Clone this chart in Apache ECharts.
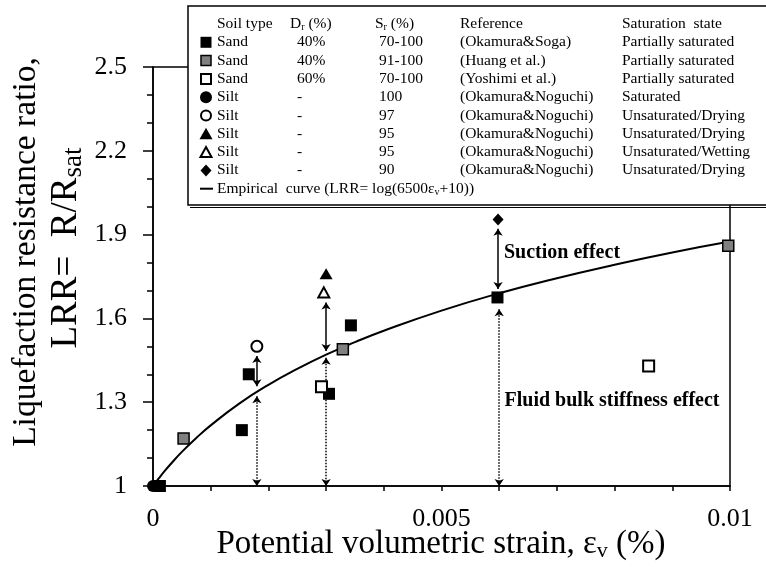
<!DOCTYPE html>
<html><head><meta charset="utf-8">
<script src="https://cdn.jsdelivr.net/npm/echarts@6/dist/echarts.min.js"></script>
<style>html,body{margin:0;padding:0;background:#fff}#c{width:766px;height:567px}</style>
</head><body><div id="c"></div><script>
const FONT = "'Liberation Serif','Times New Roman',serif";

// ---- data ----
const blackSquares   = [[0.00012,1.0],[0.00154,1.20],[0.00166,1.40],[0.00305,1.33],[0.00343,1.575],[0.00597,1.675]];
const graySquares    = [[0.00053,1.17],[0.00329,1.49],[0.00997,1.86]];
const openSquares    = [[0.00292,1.355],[0.00859,1.43]];
const blackCircles   = [[0,1.0]];
const openCircles    = [[0.0018,1.50]];
const blackTriangles = [[0.00300,1.76]];
const openTriangles  = [[0.00296,1.693]];
const blackDiamonds  = [[0.00598,1.954]];

// empirical curve, values
const curveX = [0, 0.0001, 0.0002, 0.0003, 0.0005, 0.00075, 0.001, 0.0015, 0.002, 0.0025, 0.003, 0.0035, 0.004, 0.005, 0.006, 0.007, 0.008, 0.009, 0.01];
const curveY = [1.0, 1.027, 1.053, 1.077, 1.122, 1.172, 1.217, 1.296, 1.362, 1.419, 1.470, 1.515, 1.556, 1.628, 1.690, 1.744, 1.792, 1.836, 1.875];

// arrows: [x, yFrom, yTo]
const suctionArrows = [[0.0018,1.465,1.357],[0.0030,1.657,1.483],[0.00598,1.921,1.705]];
const bulkArrows    = [[0.0018,1.321,1.0],[0.0030,1.459,1.0],[0.0060,1.633,1.0]];

// ticks
const xTickValues = [0, 0.005, 0.01];
const xTickLabels = ['0', '0.005', '0.01'];
const yTickValues = [1, 1.3, 1.6, 1.9, 2.2, 2.5];
const yTickLabels = ['1', '1.3', '1.6', '1.9', '2.2', '2.5'];
const yMinorTicks = [1.1, 1.2, 1.4, 1.5, 1.7, 1.8, 2.0, 2.1, 2.3, 2.4];

// legend table
const legendMarkers = ['blackSquare','graySquare','openSquare','blackCircle','openCircle','blackTriangle','openTriangle','blackDiamond'];
const soilTypes  = ['Sand','Sand','Sand','Silt','Silt','Silt','Silt','Silt'];
const relDensity = ['40%','40%','60%','-','-','-','-','-'];
const satDegree  = ['70-100','91-100','70-100','100','97','95','95','90'];
const references = ['(Okamura&Soga)','(Huang et al.)','(Yoshimi et al.)','(Okamura&Noguchi)','(Okamura&Noguchi)','(Okamura&Noguchi)','(Okamura&Noguchi)','(Okamura&Noguchi)'];
const satStates  = ['Partially saturated','Partially saturated','Partially saturated','Saturated','Unsaturated/Drying','Unsaturated/Drying','Unsaturated/Wetting','Unsaturated/Drying'];

// ---- chart ----
const chart = echarts.init(document.getElementById('c'), null, {renderer:'canvas'});

function nearestLabel(v, vals, labs){
  let best = 0, d = Infinity;
  vals.forEach((t,i)=>{ const e = Math.abs(t-v); if(e<d){d=e;best=i;} });
  return labs[best];
}

const LZ = 100;
const LFS = 15.5;
const legendTextStyle = (t, x, y) => ({type:'text', z:LZ+2, x:x, y:y,
  style:{text:t, font:LFS+'px '+FONT, fill:'#000', align:'left', verticalAlign:'middle'}});

function marker(kind, cx, cy){
  const z = LZ+2;
  switch(kind){
    case 'blackSquare': return {type:'rect', z, shape:{x:cx-5.5,y:cy-5.5,width:11,height:11}, style:{fill:'#000'}};
    case 'graySquare':  return {type:'rect', z, shape:{x:cx-5,y:cy-5,width:10,height:10}, style:{fill:'#808080', stroke:'#000', lineWidth:1.5}};
    case 'openSquare':  return {type:'rect', z, shape:{x:cx-5,y:cy-5,width:10,height:10}, style:{fill:'#fff', stroke:'#000', lineWidth:2}};
    case 'blackCircle': return {type:'circle', z, shape:{cx:cx,cy:cy,r:6}, style:{fill:'#000'}};
    case 'openCircle':  return {type:'circle', z, shape:{cx:cx,cy:cy,r:5}, style:{fill:'#fff', stroke:'#000', lineWidth:2}};
    case 'blackTriangle': return {type:'polygon', z, shape:{points:[[cx,cy-6],[cx+6.5,cy+5.5],[cx-6.5,cy+5.5]]}, style:{fill:'#000'}};
    case 'openTriangle':  return {type:'polygon', z, shape:{points:[[cx,cy-5],[cx+5.5,cy+5],[cx-5.5,cy+5]]}, style:{fill:'#fff', stroke:'#000', lineWidth:2}};
    case 'blackDiamond':  return {type:'polygon', z, shape:{points:[[cx,cy-6],[cx+5.5,cy],[cx,cy+6],[cx-5.5,cy]]}, style:{fill:'#000'}};
  }
}

const subRich = (fs, sfs, pad) => ({a:{font:fs+'px '+FONT, fill:'#000'}, s:{font:sfs+'px '+FONT, fill:'#000', padding:[pad,0,0,0]}});

const legendEls = [];
legendEls.push({type:'rect', z:LZ, shape:{x:188,y:6,width:600,height:199}, style:{fill:'#fff', stroke:'#000', lineWidth:1.5}});
legendEls.push({type:'line', z:LZ+1, shape:{x1:190,y1:207.5,x2:790,y2:207.5}, style:{stroke:'#000', lineWidth:1.2}});
const colX = {soil:217, drH:290, dr:297, srH:375, sr:379, ref:460, state:622};
const headY = 24, row0 = 42.3, step = 18.3;
legendEls.push(legendTextStyle('Soil type', colX.soil, headY));
legendEls.push({type:'text', z:LZ+2, x:colX.drH, y:headY, style:{text:'{a|D}{s|r}{a| (%)}', align:'left', verticalAlign:'middle', rich:subRich(LFS,10,7)}});
legendEls.push({type:'text', z:LZ+2, x:colX.srH, y:headY, style:{text:'{a|S}{s|r}{a| (%)}', align:'left', verticalAlign:'middle', rich:subRich(LFS,10,7)}});
legendEls.push(legendTextStyle('Reference', colX.ref, headY));
legendEls.push(legendTextStyle('Saturation  state', colX.state, headY));
soilTypes.forEach((s,i)=>{
  const y = row0 + i*step;
  legendEls.push(marker(legendMarkers[i], 206, y));
  legendEls.push(legendTextStyle(s, colX.soil, y));
  legendEls.push(legendTextStyle(relDensity[i], colX.dr, y));
  legendEls.push(legendTextStyle(satDegree[i], colX.sr, y));
  legendEls.push(legendTextStyle(references[i], colX.ref, y));
  legendEls.push(legendTextStyle(satStates[i], colX.state, y));
});
const empY = row0 + 8*step;
legendEls.push({type:'line', z:LZ+2, shape:{x1:200,y1:empY,x2:213,y2:empY}, style:{stroke:'#000', lineWidth:2}});
legendEls.push({type:'text', z:LZ+2, x:colX.soil, y:empY, style:{text:'{a|Empirical  curve (LRR= log(6500ε}{s|v}{a|+10))}', align:'left', verticalAlign:'middle', rich:subRich(LFS,10,7)}});

const titleEls = [
  {type:'text', x:26, y:252, rotation:Math.PI/2, style:{text:'Liquefaction resistance ratio,', font:'33.5px '+FONT, fill:'#000', align:'center', verticalAlign:'middle'}},
  {type:'text', x:66, y:248, rotation:Math.PI/2, style:{text:'{a|LRR=  R/R}{s|sat}', align:'center', verticalAlign:'middle', rich:subRich(37,27,16)}},
  {type:'text', x:441, y:544, style:{text:'{a|Potential volumetric strain, ε}{s|v}{a| (%)}', align:'center', verticalAlign:'middle', rich:subRich(33,22,14)}},
  {type:'text', x:562, y:253, style:{text:'Suction effect', font:'bold 20px '+FONT, fill:'#000', align:'center', verticalAlign:'middle'}},
  {type:'text', x:612, y:401, style:{text:'Fluid bulk stiffness effect', font:'bold 20px '+FONT, fill:'#000', align:'center', verticalAlign:'middle'}}
];

function scatter(name, data, symbol, size, fill, borderW){
  return {name, type:'scatter', data, symbol, symbolSize:size, clip:false, z:5,
    itemStyle:{color:fill, borderColor:'#000', borderWidth:borderW, opacity:1}};
}

const option = {
  animation:false,
  backgroundColor:'#fff',
  grid:{left:153, right:36, top:67, bottom:81, show:true, borderColor:'#000', borderWidth:1.5, backgroundColor:'transparent'},
  xAxis:{type:'value', min:0, max:0.01, interval:0.001,
    axisLine:{show:true, lineStyle:{color:'#000', width:1.5}},
    axisTick:{show:true, length:5, lineStyle:{color:'#000', width:1.5}},
    axisLabel:{customValues:xTickValues, formatter:v=>nearestLabel(v,xTickValues,xTickLabels), margin:20, color:'#000', fontFamily:FONT, fontSize:26},
    splitLine:{show:false}},
  yAxis:[
    {type:'value', min:1, max:2.5,
      axisLine:{show:true, lineStyle:{color:'#000', width:1.5}},
      axisTick:{show:true, customValues:yTickValues, length:10, lineStyle:{color:'#000', width:1.5}},
      axisLabel:{customValues:yTickValues, formatter:v=>nearestLabel(v,yTickValues,yTickLabels), margin:26, color:'#000', fontFamily:FONT, fontSize:26},
      splitLine:{show:false}},
    {type:'value', min:1, max:2.5, position:'left',
      axisLine:{show:false},
      axisTick:{show:true, customValues:yMinorTicks, length:6, lineStyle:{color:'#000', width:1.5}},
      axisLabel:{show:false}, splitLine:{show:false}}
  ],
  series:[
    {name:'Empirical curve', type:'line', data:curveX.map((x,i)=>[x,curveY[i]]), smooth:true, showSymbol:false, symbol:'none',
      lineStyle:{color:'#000', width:2}, z:3},
    {name:'Suction', type:'lines', coordinateSystem:'cartesian2d', symbol:['arrow','arrow'], symbolSize:7,
      lineStyle:{color:'#000', width:1.5, type:'solid', opacity:1, curveness:0},
      data:suctionArrows.map(a=>({coords:[[a[0],a[1]],[a[0],a[2]]]})), z:4},
    {name:'Bulk', type:'lines', coordinateSystem:'cartesian2d', symbol:['arrow','arrow'], symbolSize:7,
      lineStyle:{color:'#000', width:1.5, type:'dotted', opacity:1, curveness:0},
      data:bulkArrows.map(a=>({coords:[[a[0],a[1]],[a[0],a[2]]]})), z:4},
    scatter('Silt saturated', blackCircles, 'circle', 12, '#000', 0),
    scatter('Sand Okamura&Soga', blackSquares, 'rect', 12, '#000', 0),
    scatter('Sand Huang', graySquares, 'rect', 11, '#808080', 1.5),
    scatter('Sand Yoshimi', openSquares, 'rect', 11, '#fff', 2),
    scatter('Silt drying 97', openCircles, 'circle', 11, '#fff', 2),
    scatter('Silt drying 95', blackTriangles, 'triangle', [13,11], '#000', 0),
    scatter('Silt wetting 95', openTriangles, 'triangle', [11,10], '#fff', 2),
    scatter('Silt drying 90', blackDiamonds, 'diamond', [11,12], '#000', 0)
  ],
  graphic:[...titleEls, ...legendEls]
};
chart.setOption(option);
</script></body></html>
